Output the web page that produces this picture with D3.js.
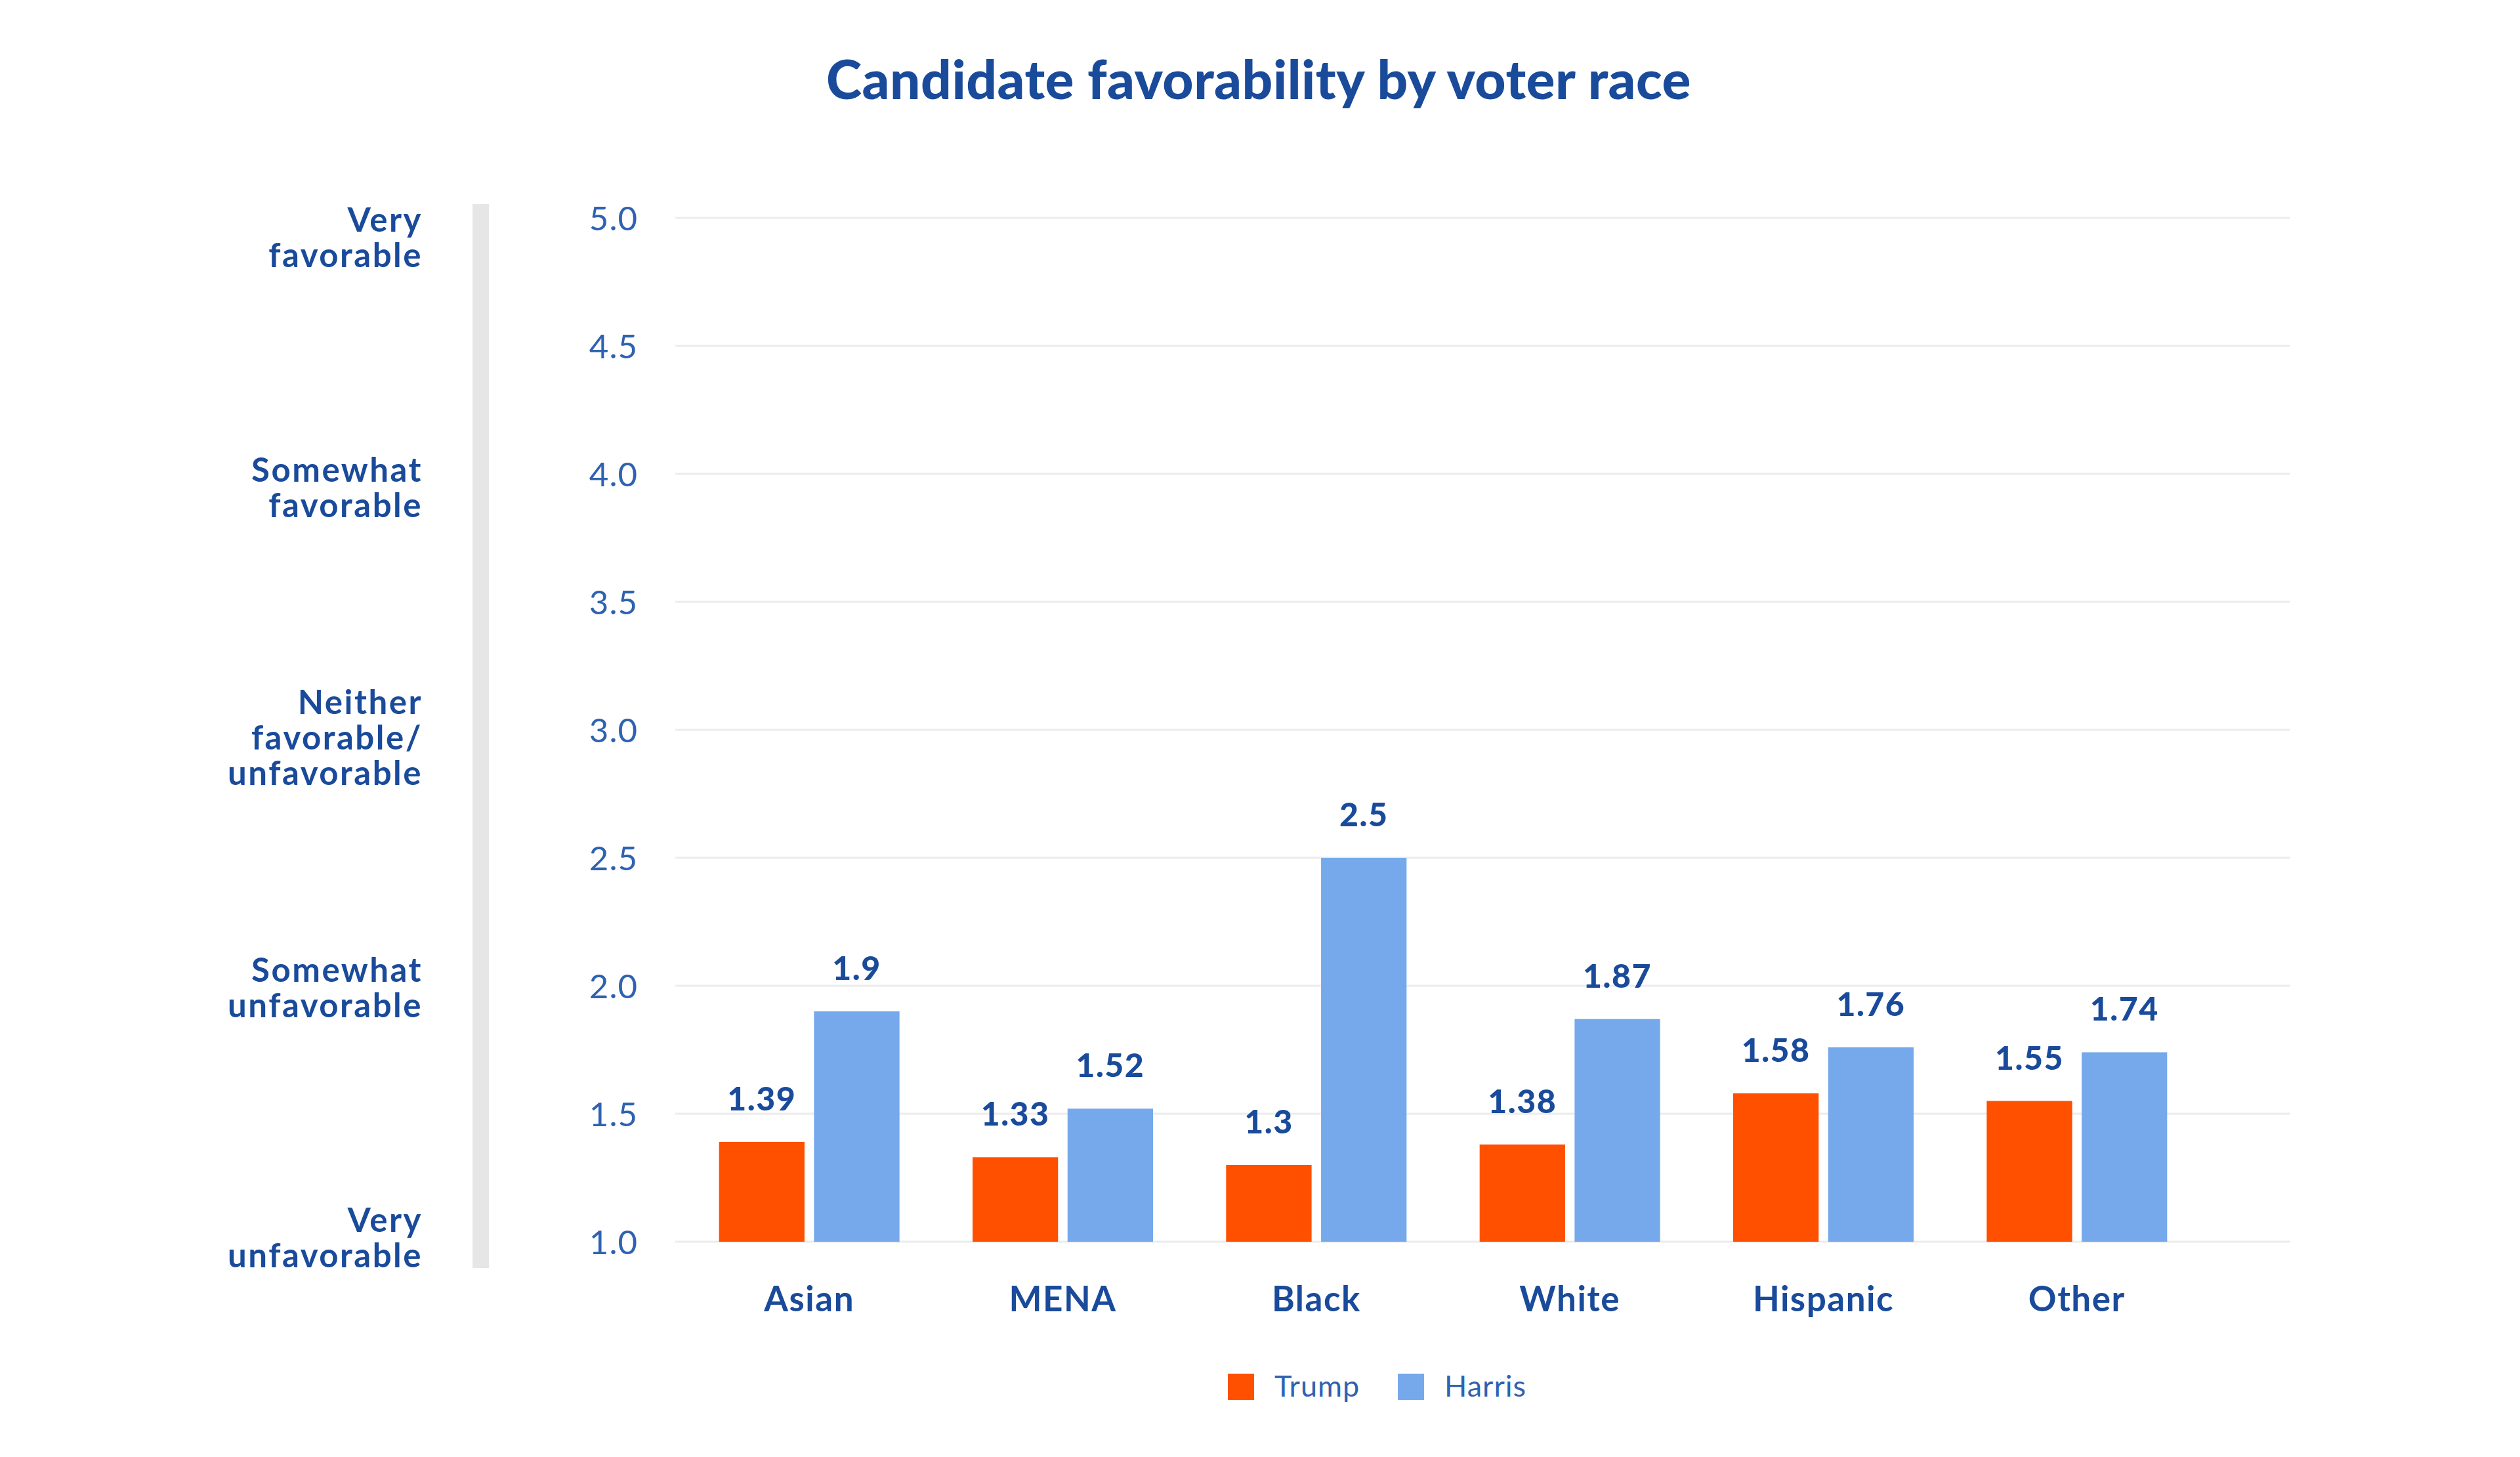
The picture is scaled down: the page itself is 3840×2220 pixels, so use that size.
<!DOCTYPE html>
<html>
<head>
<meta charset="utf-8">
<script src="https://cdn.jsdelivr.net/npm/d3@7"></script>
<style>
  html, body { margin: 0; padding: 0; background: #fff; }
  svg { display: block; }
  text { font-family: Lato, "Open Sans", sans-serif; }
</style>
</head>
<body>
<svg id="chart" width="3840" height="2220"></svg>
<script>
// ---- data ----
const categories = ["Asian", "MENA", "Black", "White", "Hispanic", "Other"];
const seriesNames = ["Trump", "Harris"];
const trumpValues = [1.39, 1.33, 1.3, 1.38, 1.58, 1.55];
const harrisValues = [1.9, 1.52, 2.5, 1.87, 1.76, 1.74];
const trumpLabels = ["1.39", "1.33", "1.3", "1.38", "1.58", "1.55"];
const harrisLabels = ["1.9", "1.52", "2.5", "1.87", "1.76", "1.74"];
const yTicks = [1.0, 1.5, 2.0, 2.5, 3.0, 3.5, 4.0, 4.5, 5.0];
const scaleLabels = [
  ["Very", "favorable"],
  ["Somewhat", "favorable"],
  ["Neither", "favorable/", "unfavorable"],
  ["Somewhat", "unfavorable"],
  ["Very", "unfavorable"]
];
const title = "Candidate favorability by voter race";

// ---- styles ----
const colors = { Trump: "#ff5000", Harris: "#75a9ec" };
const darkBlue = "#1a4b9b";
const tickBlue = "#2f62b0";

const svg = d3.select("#chart");

const y = d3.scaleLinear().domain([1, 5]).range([1892, 332]);
const x0 = d3.scaleBand().domain(categories).range([1040, 3358]).paddingInner(0).paddingOuter(0);
const x1 = d3.scaleBand().domain(seriesNames).range([-137.5, 137.5]).paddingInner(0.1);

// title
svg.append("text")
  .attr("x", 1918).attr("y", 151)
  .attr("text-anchor", "middle")
  .attr("fill", darkBlue)
  .attr("font-weight", 900)
  .attr("font-size", 82)
  .attr("letter-spacing", 0.5)
  .text(title);

// left gray bar
svg.append("rect")
  .attr("x", 720).attr("y", 311)
  .attr("width", 25).attr("height", 1621)
  .attr("fill", "#e6e6e6");

// gridlines
svg.append("g").selectAll("line").data(yTicks).join("line")
  .attr("x1", 1029).attr("x2", 3490)
  .attr("y1", d => y(d)).attr("y2", d => y(d))
  .attr("stroke", "#ececec").attr("stroke-width", 3);

// y axis labels
const yAxis = d3.axisLeft(y).tickValues(yTicks).tickFormat(d3.format(".1f")).tickSize(0).tickPadding(0);
const yg = svg.append("g").attr("transform", "translate(972,0)").call(yAxis);
yg.select(".domain").remove();
yg.selectAll("text")
  .attr("font-family", "Lato, sans-serif")
  .attr("font-size", 51)
  .attr("font-weight", 400)
  .attr("letter-spacing", 1)
  .attr("fill", tickBlue)
  .attr("dy", "0.36em");

// scale description labels
const sp = d3.scalePoint().domain(d3.range(scaleLabels.length)).range([362, 1886]);
const lineH = 54;
const sg = svg.append("g");
scaleLabels.forEach((lines, i) => {
  const n = lines.length;
  const t = sg.append("text")
    .attr("text-anchor", "end")
    .attr("fill", darkBlue)
    .attr("font-weight", 700)
    .attr("font-size", 51)
    .attr("letter-spacing", 2.5);
  lines.forEach((ln, j) => {
    t.append("tspan")
      .attr("x", 644)
      .attr("y", sp(i) + 18 + (j - (n - 1) / 2) * lineH)
      .text(ln);
  });
});

// bars
const rows = categories.map((c, i) => ({
  cat: c,
  vals: [
    { s: "Trump", v: trumpValues[i], label: trumpLabels[i] },
    { s: "Harris", v: harrisValues[i], label: harrisLabels[i] }
  ]
}));

const groups = svg.append("g").selectAll("g").data(rows).join("g")
  .attr("transform", d => `translate(${x0(d.cat) + x0.bandwidth() / 2},0)`);

groups.selectAll("rect").data(d => d.vals).join("rect")
  .attr("x", d => x1(d.s))
  .attr("width", x1.bandwidth())
  .attr("y", d => y(d.v))
  .attr("height", d => y(1) - y(d.v))
  .attr("fill", d => colors[d.s]);

groups.selectAll("text.val").data(d => d.vals).join("text")
  .attr("class", "val")
  .attr("x", d => x1(d.s) + x1.bandwidth() / 2)
  .attr("y", d => y(d.v) - 48)
  .attr("text-anchor", "middle")
  .attr("fill", darkBlue)
  .attr("font-weight", 900)
  .attr("font-size", 50)
  .attr("letter-spacing", 1.5)
  .text(d => d.label);

// x axis labels
const xAxis = d3.axisBottom(x0).tickSize(0).tickPadding(0);
const xg = svg.append("g").attr("transform", "translate(0,1998)").call(xAxis);
xg.select(".domain").remove();
xg.selectAll("text")
  .attr("font-family", "Lato, sans-serif")
  .attr("font-size", 53)
  .attr("font-weight", 700)
  .attr("letter-spacing", 1.5)
  .attr("fill", darkBlue)
  .attr("dy", 0);

// legend
const legendItems = [
  { s: "Trump", x: 1871 },
  { s: "Harris", x: 2130 }
];
const lg = svg.append("g").selectAll("g").data(legendItems).join("g")
  .attr("transform", d => `translate(${d.x},2093)`);
lg.append("rect").attr("width", 40).attr("height", 40).attr("fill", d => colors[d.s]);
lg.append("text")
  .attr("x", 71).attr("y", 35)
  .attr("fill", tickBlue)
  .attr("font-size", 45)
  .attr("font-weight", 400)
  .attr("letter-spacing", 1)
  .text(d => d.s);
</script>
</body>
</html>
